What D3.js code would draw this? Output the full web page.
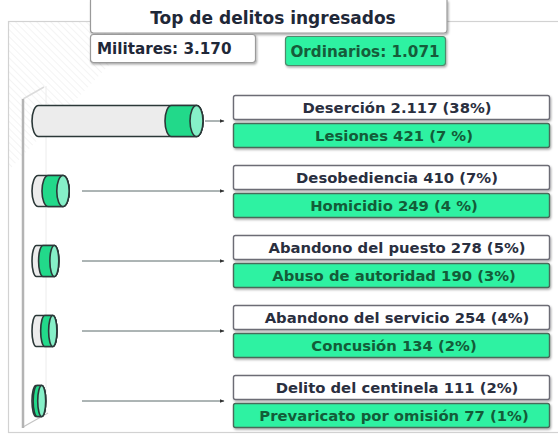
<!DOCTYPE html>
<html>
<head>
<meta charset="utf-8">
<script src="https://cdn.jsdelivr.net/npm/d3@7"></script>
<style>
  body { margin: 0; background: #fff; }
  svg text { font-family: "DejaVu Sans", Verdana, sans-serif; font-weight: bold; }
</style>
</head>
<body>
<div id="chart"></div>
<script>
// data
const totalMilitares = 3170;
const totalOrdinarios = 1071;

const militares = ["Deserción", "Desobediencia", "Abandono del puesto", "Abandono del servicio", "Delito del centinela"];
const militaresVal = [2117, 410, 278, 254, 111];
const militaresPct = ["38%", "7%", "5%", "4%", "2%"];

const ordinarios = ["Lesiones", "Homicidio", "Abuso de autoridad", "Concusión", "Prevaricato por omisión"];
const ordinariosVal = [421, 249, 190, 134, 77];
const ordinariosPct = ["7 %", "4 %", "3%", "2%", "1%"];

const W = 558, H = 435;
const es = d3.formatLocale({ decimal: ",", thousands: ".", grouping: [3], currency: ["", ""] });
const fmt = es.format(",d");

const svg = d3.select("#chart").append("svg")
  .attr("width", W).attr("height", H);

const defs = svg.append("defs");
const sh = defs.append("filter").attr("id", "shadow")
  .attr("x", "-5%").attr("y", "-20%").attr("width", "110%").attr("height", "150%");
sh.append("feDropShadow").attr("dx", 1).attr("dy", 1.5).attr("stdDeviation", 1)
  .attr("flood-color", "#000").attr("flood-opacity", 0.35);

defs.append("marker").attr("id", "arrow")
  .attr("viewBox", "0 0 10 10").attr("refX", 9).attr("refY", 5)
  .attr("markerWidth", 5).attr("markerHeight", 5).attr("orient", "auto")
  .append("path").attr("d", "M0,1 L10,5 L0,9 Z").attr("fill", "#333");

// faint hatching top-left
const hatch = defs.append("pattern").attr("id", "hatch")
  .attr("width", 5).attr("height", 5).attr("patternUnits", "userSpaceOnUse")
  .attr("patternTransform", "rotate(-45)");
hatch.append("line").attr("x1", 0).attr("y1", 0).attr("x2", 0).attr("y2", 5)
  .attr("stroke", "#f0f0f0").attr("stroke-width", 1.5);
svg.append("path").attr("d", "M9,22 H150 L9,170 Z").attr("fill", "url(#hatch)");

// frame / 3d wall
svg.append("rect")
  .attr("x", 8.5).attr("y", 21.5).attr("width", W).attr("height", 411)
  .attr("fill", "none").attr("stroke", "#d2d2d2").attr("stroke-width", 1.2);

svg.append("line").attr("x1", 46).attr("y1", 86).attr("x2", 46).attr("y2", 412)
  .attr("stroke", "#ececec").attr("stroke-width", 1);
svg.append("line").attr("x1", 23).attr("y1", 99).attr("x2", 44).attr("y2", 87)
  .attr("stroke", "#dcdcdc").attr("stroke-width", 1.5);
svg.append("line").attr("x1", 23).attr("y1", 427).attr("x2", 48).attr("y2", 413)
  .attr("stroke", "#c4c4c4").attr("stroke-width", 1.2);
svg.append("line").attr("x1", 23).attr("y1", 99).attr("x2", 23).attr("y2", 428)
  .attr("stroke", "#b4b4b4").attr("stroke-width", 2.5);

// header
svg.append("path")
  .attr("d", "M90.5,0 V30 Q90.5,33 93.5,33 H444 Q447,33 447,30 V0")
  .attr("fill", "#fff").attr("stroke", "#9a9a9a").attr("stroke-width", 1.2)
  .attr("filter", "url(#shadow)");
svg.append("text").attr("x", 273).attr("y", 24)
  .attr("text-anchor", "middle").attr("font-size", 17).attr("fill", "#1f2838")
  .text("Top de delitos ingresados");

svg.append("rect").attr("x", 90.5).attr("y", 34.5).attr("width", 165).attr("height", 28).attr("rx", 3)
  .attr("fill", "#fff").attr("stroke", "#9a9a9a").attr("stroke-width", 1.2)
  .attr("filter", "url(#shadow)");
svg.append("text").attr("x", 97).attr("y", 54)
  .attr("font-size", 15.2).attr("fill", "#1f2838")
  .text("Militares: " + fmt(totalMilitares));

svg.append("rect").attr("x", 285.5).attr("y", 36.5).attr("width", 160).attr("height", 29).attr("rx", 3)
  .attr("fill", "#2ff2a2").attr("stroke", "#4f8a6c").attr("stroke-width", 1.2)
  .attr("filter", "url(#shadow)");
svg.append("text").attr("x", 365).attr("y", 57)
  .attr("text-anchor", "middle").attr("font-size", 15.2).attr("fill", "#165c3a")
  .text("Ordinarios: " + fmt(totalOrdinarios));

// scales
const y = d3.scalePoint().domain(d3.range(militares.length)).range([95, 375]);
const x = d3.scaleLinear().domain([0, d3.max(militaresVal)]).range([0, 166]);
const xo = d3.scaleLinear().domain([0, d3.max(ordinariosVal)]).range([0, 25]);

const x0 = 32, ry = 15.5;
const boxX = 233, boxW = 316, boxH = 24;

const rows = svg.selectAll(".row")
  .data(d3.range(militares.length))
  .enter().append("g").attr("class", "row");

rows.each(function (i) {
  const g = d3.select(this);
  const cy = y(i) + 26;
  const len = x(militaresVal[i]) + 5;
  const rx = Math.max(4, Math.min(6.5, len / 6));
  const cxL = x0 + rx, cxR = x0 + len - rx;
  const gw = Math.min(xo(ordinariosVal[i]), cxR - cxL);
  const gx = cxR - gw;

  // grey body
  g.append("path")
    .attr("d", `M${cxL},${cy - ry} H${cxR} A${rx},${ry} 0 0 1 ${cxR},${cy + ry} H${cxL} A${rx},${ry} 0 0 1 ${cxL},${cy - ry} Z`)
    .attr("fill", "#ececec").attr("stroke", "#2b3838").attr("stroke-width", 1.6);
  // green segment
  g.append("path")
    .attr("d", `M${gx},${cy - ry} H${cxR} A${rx},${ry} 0 0 1 ${cxR},${cy + ry} H${gx} A${rx},${ry} 0 0 1 ${gx},${cy - ry} Z`)
    .attr("fill", "#22d98a").attr("stroke", "#2b3838").attr("stroke-width", 1.6);
  // end cap
  g.append("ellipse")
    .attr("cx", cxR).attr("cy", cy).attr("rx", rx).attr("ry", ry)
    .attr("fill", "#86f0c8").attr("stroke", "#2b3838").attr("stroke-width", 1.6);

  // arrow
  const right = x0 + len;
  g.append("line")
    .attr("x1", Math.max(82, right + 2)).attr("y1", cy)
    .attr("x2", 224).attr("y2", cy)
    .attr("stroke", "#5a6a6a").attr("stroke-width", 1)
    .attr("marker-end", "url(#arrow)");

  // militares box
  g.append("rect")
    .attr("x", boxX + 0.5).attr("y", y(i) + 0.5).attr("width", boxW).attr("height", boxH).attr("rx", 2)
    .attr("fill", "#fff").attr("stroke", "#6c6c74").attr("stroke-width", 1.4)
    .attr("filter", "url(#shadow)");
  g.append("text")
    .attr("x", boxX + boxW / 2 + 6).attr("y", y(i) + 17.5)
    .attr("text-anchor", "middle").attr("font-size", 14.8).attr("fill", "#2a2f3f")
    .text(`${militares[i]} ${fmt(militaresVal[i])} (${militaresPct[i]})`);

  // ordinarios box
  g.append("rect")
    .attr("x", boxX + 0.5).attr("y", y(i) + 28.5).attr("width", boxW).attr("height", boxH).attr("rx", 2)
    .attr("fill", "#2ff2a2").attr("stroke", "#4a6a5a").attr("stroke-width", 1.4)
    .attr("filter", "url(#shadow)");
  g.append("text")
    .attr("x", boxX + boxW / 2 + 3).attr("y", y(i) + 45.5)
    .attr("text-anchor", "middle").attr("font-size", 14.8).attr("fill", "#135c38")
    .text(`${ordinarios[i]} ${fmt(ordinariosVal[i])} (${ordinariosPct[i]})`);
});
</script>
</body>
</html>
